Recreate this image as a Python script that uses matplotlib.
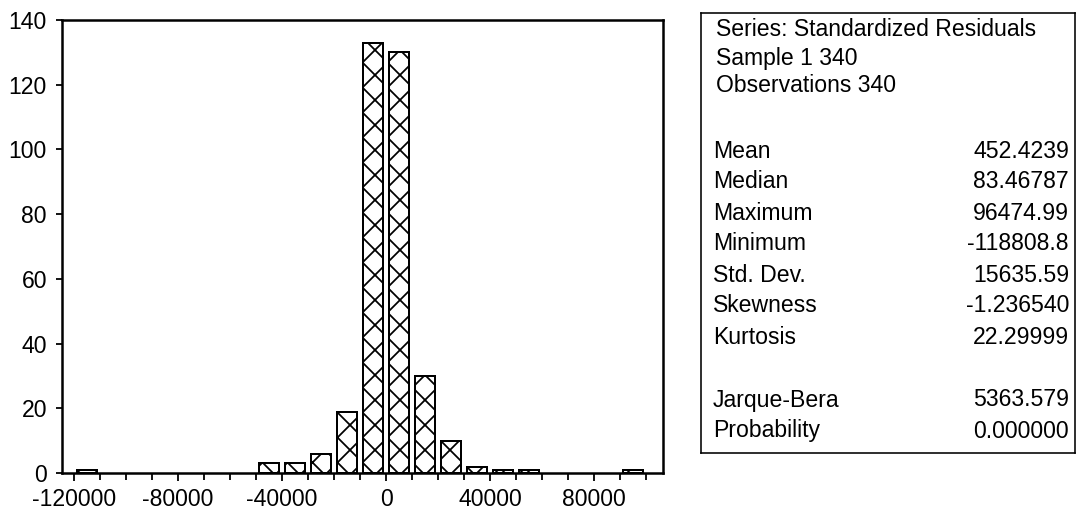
import numpy as np
import matplotlib
matplotlib.use("Agg")
import matplotlib.pyplot as plt
from matplotlib.ticker import MultipleLocator

# histogram of standardized residuals (bin width 10000)
bin_centers = [-115000, -45000, -35000, -25000, -15000, -5000, 5000,
               15000, 25000, 35000, 45000, 55000, 95000]
counts = [1, 3, 3, 6, 19, 133, 130, 30, 10, 2, 1, 1, 1]
xticks = [-120000, -80000, -40000, 0, 40000, 80000]
yticks = [0, 20, 40, 60, 80, 100, 120, 140]

head_lines = ["Series: Standardized Residuals", "Sample 1 340", "Observations 340"]
stat_names = ["Mean", "Median", "Maximum", "Minimum", "Std. Dev.",
              "Skewness", "Kurtosis", "Jarque-Bera", "Probability"]
stat_values = ["452.4239", "83.46787", "96474.99", "-118808.8", "15635.59",
               "-1.236540", "22.29999", "5363.579", "0.000000"]

DPI = 75
W, H = 1081, 521
pt = lambda px: px * 72 / DPI   # pixels -> points

plt.rcParams['font.family'] = ['Liberation Sans', 'DejaVu Sans']
plt.rcParams['hatch.linewidth'] = 1.7
plt.rcParams['hatch.color'] = 'black'

fig = plt.figure(figsize=(W / DPI, H / DPI), dpi=DPI)

# histogram panel (pixel layout -> figure fractions)
l, r, t, b = 62, 663, 20, 473
ax = fig.add_axes([l / W, 1 - b / H, (r - l) / W, (b - t) / H])
ax.bar(bin_centers, counts, width=7600, color='white', edgecolor='black',
       linewidth=pt(2), hatch='x')
ax.set_xlim(-124600, 106500)
ax.set_ylim(0, 140)
ax.set_xticks(xticks)
ax.set_xticklabels([str(v) for v in xticks])
ax.xaxis.set_minor_locator(MultipleLocator(10000))
ax.set_yticks(yticks)
ax.tick_params(axis='both', which='both', direction='out', width=pt(1.8),
               labelsize=pt(23), colors='black')
ax.tick_params(axis='x', which='major', length=pt(8), pad=pt(7))
ax.tick_params(axis='x', which='minor', length=pt(7))
ax.tick_params(axis='y', which='major', length=pt(6), pad=pt(9))
for s in ax.spines.values():
    s.set_linewidth(pt(2.5))

# statistics box
bl, br, bt, bb = 701, 1075, 13, 453
ax2 = fig.add_axes([bl / W, 1 - bb / H, (br - bl) / W, (bb - bt) / H])
ax2.set_xlim(bl, br)
ax2.set_ylim(bb, bt)
ax2.set_xticks([]); ax2.set_yticks([])
for s in ax2.spines.values():
    s.set_linewidth(pt(1.6))

head_y = [30, 58, 86]
stat_y = [151, 182, 213, 244, 275, 306, 337, 400, 431]
for txt, y in zip(head_lines, head_y):
    ax2.text(716, y, txt, fontsize=pt(23), ha='left', va='center')
for name, val, y in zip(stat_names, stat_values, stat_y):
    ax2.text(713, y, name, fontsize=pt(23), ha='left', va='center')
    ax2.text(1069, y, val, fontsize=pt(23), ha='right', va='center')

fig.savefig("out.png", dpi=DPI)
